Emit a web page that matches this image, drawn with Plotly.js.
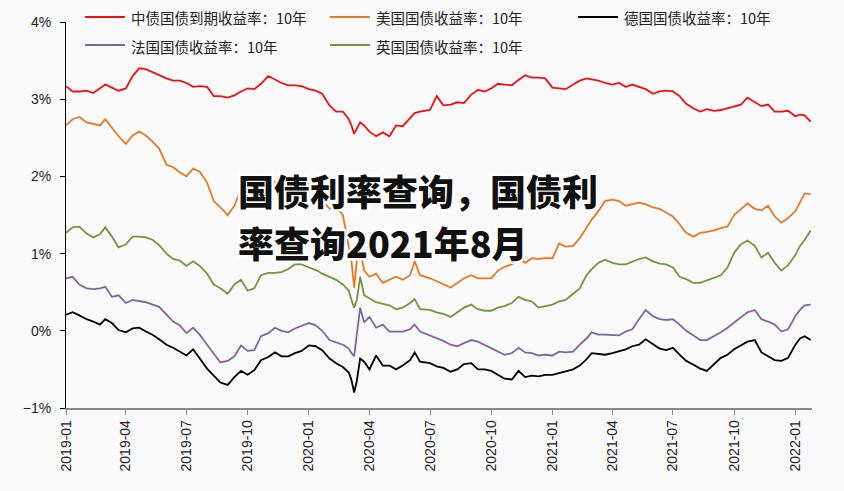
<!DOCTYPE html>
<html>
<head>
<meta charset="utf-8">
<script src="https://cdn.plot.ly/plotly-3.0.1.min.js"></script>
<style>
html,body{margin:0;padding:0;background:#f9f9f9;}
#chart{width:844px;height:491px;}
.annotation[data-index="0"] .annotation-text,
.annotation[data-index="1"] .annotation-text{paint-order:stroke;stroke:#ffffff;stroke-width:5px;stroke-linejoin:round;}
</style>
</head>
<body>
<div id="chart"></div>
<script>
const dates = [
"2019-01-01","2019-01-11","2019-01-21","2019-02-01","2019-02-11","2019-02-21","2019-03-01","2019-03-11","2019-03-21",
"2019-04-01","2019-04-11","2019-04-21","2019-05-01","2019-05-11","2019-05-21","2019-06-01","2019-06-11","2019-06-21",
"2019-07-01","2019-07-11","2019-07-21","2019-08-01","2019-08-11","2019-08-21","2019-09-01","2019-09-11","2019-09-21",
"2019-10-01","2019-10-11","2019-10-21","2019-11-01","2019-11-11","2019-11-21","2019-12-01","2019-12-11","2019-12-21",
"2020-01-01","2020-01-11","2020-01-21","2020-02-01","2020-02-11","2020-02-21","2020-03-01","2020-03-05","2020-03-09",
"2020-03-13","2020-03-18","2020-03-24","2020-04-01","2020-04-11","2020-04-21","2020-05-01","2020-05-11","2020-05-21",
"2020-06-01","2020-06-08","2020-06-16","2020-07-01","2020-07-11","2020-07-21","2020-08-01","2020-08-11","2020-08-21",
"2020-09-01","2020-09-11","2020-09-21","2020-10-01","2020-10-11","2020-10-21","2020-11-01","2020-11-11","2020-11-21",
"2020-12-01","2020-12-11","2020-12-21","2021-01-01","2021-01-11","2021-01-21","2021-02-01","2021-02-11","2021-02-21",
"2021-03-01","2021-03-11","2021-03-21","2021-04-01","2021-04-11","2021-04-21","2021-05-01","2021-05-11","2021-05-21",
"2021-06-01","2021-06-11","2021-06-21","2021-07-01","2021-07-11","2021-07-21","2021-08-01","2021-08-11","2021-08-21",
"2021-09-01","2021-09-11","2021-09-21","2021-10-01","2021-10-11","2021-10-21","2021-11-01","2021-11-11","2021-11-21",
"2021-12-01","2021-12-11","2021-12-21","2022-01-01","2022-01-08","2022-01-15","2022-01-24"
];

const chinaYield = [
3.17,3.10,3.10,3.11,3.08,3.14,3.19,3.15,3.11,
3.14,3.30,3.40,3.39,3.35,3.31,3.27,3.24,3.24,
3.21,3.16,3.17,3.16,3.04,3.04,3.02,3.05,3.10,
3.14,3.13,3.20,3.30,3.25,3.21,3.18,3.18,3.17,
3.13,3.11,3.07,2.92,2.84,2.84,2.74,2.66,2.55,
2.62,2.70,2.66,2.58,2.52,2.57,2.52,2.66,2.65,
2.75,2.82,2.84,2.86,3.04,2.92,2.93,2.96,2.95,
3.06,3.12,3.10,3.14,3.20,3.19,3.18,3.25,3.31,
3.28,3.28,3.27,3.15,3.14,3.13,3.19,3.24,3.27,
3.26,3.24,3.21,3.19,3.21,3.16,3.19,3.16,3.13,
3.07,3.10,3.11,3.10,3.04,2.94,2.88,2.84,2.87,
2.85,2.86,2.88,2.90,2.93,3.02,2.96,2.91,2.93,
2.84,2.84,2.85,2.78,2.80,2.79,2.71
];

const usYield = [
2.66,2.74,2.77,2.70,2.68,2.66,2.74,2.63,2.52,
2.42,2.53,2.58,2.53,2.45,2.36,2.15,2.12,2.05,
2.00,2.10,2.06,1.92,1.68,1.60,1.50,1.62,1.84,
1.72,1.60,1.78,1.82,1.93,1.80,1.84,1.85,1.92,
1.90,1.84,1.70,1.58,1.60,1.50,1.10,0.90,0.56,
0.90,1.05,0.78,0.70,0.74,0.62,0.66,0.70,0.66,
0.72,0.90,0.72,0.68,0.64,0.61,0.56,0.62,0.68,
0.72,0.68,0.68,0.68,0.78,0.83,0.86,0.94,0.88,
0.94,0.93,0.94,0.94,1.13,1.09,1.10,1.20,1.34,
1.44,1.55,1.68,1.70,1.68,1.62,1.64,1.66,1.64,
1.60,1.58,1.53,1.48,1.38,1.27,1.22,1.27,1.28,
1.30,1.33,1.35,1.50,1.58,1.65,1.58,1.56,1.62,
1.48,1.40,1.46,1.55,1.66,1.78,1.77
];

const germanyYield = [
0.21,0.24,0.20,0.15,0.12,0.08,0.15,0.10,0.01,
-0.02,0.03,0.04,-0.01,-0.05,-0.11,-0.18,-0.22,-0.27,
-0.32,-0.24,-0.36,-0.49,-0.58,-0.67,-0.70,-0.60,-0.52,
-0.57,-0.51,-0.38,-0.34,-0.28,-0.33,-0.33,-0.29,-0.26,
-0.19,-0.20,-0.25,-0.36,-0.42,-0.47,-0.54,-0.64,-0.80,
-0.65,-0.36,-0.40,-0.50,-0.32,-0.45,-0.45,-0.50,-0.45,
-0.38,-0.28,-0.40,-0.42,-0.46,-0.48,-0.53,-0.50,-0.43,
-0.42,-0.50,-0.50,-0.52,-0.57,-0.62,-0.63,-0.52,-0.60,
-0.58,-0.59,-0.57,-0.57,-0.55,-0.53,-0.50,-0.45,-0.37,
-0.29,-0.30,-0.31,-0.29,-0.27,-0.24,-0.20,-0.18,-0.11,
-0.17,-0.23,-0.25,-0.22,-0.31,-0.39,-0.44,-0.49,-0.52,
-0.43,-0.35,-0.31,-0.24,-0.19,-0.14,-0.12,-0.28,-0.33,
-0.38,-0.39,-0.35,-0.18,-0.10,-0.07,-0.12
];

const franceYield = [
0.68,0.70,0.60,0.55,0.54,0.55,0.57,0.44,0.46,
0.36,0.40,0.38,0.37,0.34,0.31,0.21,0.12,0.07,
-0.03,0.04,-0.05,-0.18,-0.29,-0.41,-0.39,-0.33,-0.19,
-0.26,-0.25,-0.07,-0.03,0.04,0.00,-0.02,0.03,0.06,
0.10,0.07,0.00,-0.12,-0.15,-0.18,-0.23,-0.29,-0.33,
-0.05,0.30,0.11,0.18,0.04,0.08,-0.01,-0.01,-0.01,
0.02,0.08,-0.01,-0.06,-0.09,-0.13,-0.18,-0.20,-0.16,
-0.12,-0.14,-0.18,-0.22,-0.27,-0.31,-0.29,-0.22,-0.28,
-0.29,-0.32,-0.31,-0.32,-0.27,-0.28,-0.27,-0.18,-0.10,
-0.02,-0.05,-0.05,-0.06,-0.06,-0.01,0.02,0.15,0.27,
0.19,0.15,0.14,0.15,0.08,0.00,-0.06,-0.12,-0.12,
-0.07,-0.02,0.04,0.11,0.17,0.24,0.27,0.15,0.12,
0.08,-0.01,0.02,0.19,0.27,0.33,0.34
];

const ukYield = [
1.27,1.34,1.35,1.26,1.21,1.25,1.34,1.22,1.08,
1.12,1.22,1.22,1.21,1.18,1.11,1.00,0.93,0.91,
0.84,0.90,0.84,0.74,0.60,0.55,0.48,0.60,0.66,
0.52,0.55,0.72,0.75,0.75,0.76,0.80,0.86,0.86,
0.82,0.79,0.74,0.70,0.66,0.60,0.52,0.40,0.30,
0.40,0.70,0.46,0.42,0.37,0.35,0.33,0.28,0.30,
0.36,0.41,0.28,0.27,0.24,0.22,0.18,0.24,0.30,
0.34,0.28,0.26,0.26,0.30,0.32,0.36,0.44,0.40,
0.38,0.30,0.32,0.34,0.38,0.40,0.48,0.55,0.72,
0.80,0.88,0.92,0.88,0.86,0.86,0.90,0.93,0.95,
0.90,0.87,0.86,0.82,0.70,0.67,0.62,0.62,0.65,
0.68,0.72,0.82,1.01,1.12,1.17,1.10,0.95,1.01,
0.88,0.78,0.85,0.98,1.10,1.18,1.30
];

const seriesNames = [
"中债国债到期收益率：10年",
"美国国债收益率：10年",
"德国国债收益率：10年",
"法国国债收益率：10年",
"英国国债收益率：10年"
];
const overlayLines = ["国债利率查询，国债利", "率查询2021年8月"];

const colors = ["#ee1111", "#e47a26", "#000000", "#8064a2", "#77933c"];
const values = [chinaYield, usYield, germanyYield, franceYield, ukYield];

const W = 844, H = 491;
const M = {l: 66, r: 32, t: 22, b: 83};
const plotW = W - M.l - M.r, plotH = H - M.t - M.b;
const px = p => (p - M.l) / plotW;        // pixel x -> paper x
const py = p => (H - M.b - p) / plotH;    // pixel y -> paper y

// legend slots (pixel positions of each entry's key line start and row centre)
const legendSlots = [[85, 17], [330, 17], [578, 17], [85, 45], [330, 45]];

const traces = values.map((v, i) => ({
  type: "scatter",
  mode: "lines",
  x: dates,
  y: v,
  name: seriesNames[i],
  line: {color: colors[i], width: 1.8},
  hoverinfo: "skip",
  showlegend: false
}));

const shapes = [];
const annotations = [
  {xref: "paper", yref: "paper", x: px(236), y: py(190), xanchor: "left", yanchor: "middle",
   text: overlayLines[0], showarrow: false,
   font: {family: "Noto Sans CJK SC, sans-serif", size: 36, weight: 900, color: "#111"}},
  {xref: "paper", yref: "paper", x: px(236), y: py(242), xanchor: "left", yanchor: "middle",
   text: overlayLines[1], showarrow: false,
   font: {family: "Noto Sans CJK SC, sans-serif", size: 36, weight: 900, color: "#111"}}
];
legendSlots.forEach(([lx, ly], i) => {
  shapes.push({type: "line", xref: "paper", yref: "paper",
    x0: px(lx), x1: px(lx + 40), y0: py(ly), y1: py(ly),
    line: {color: colors[i], width: 2.2}});
  annotations.push({xref: "paper", yref: "paper", x: px(lx + 44), y: py(ly + 1),
    xanchor: "left", yanchor: "middle", showarrow: false, text: seriesNames[i],
    font: {family: "Noto Sans CJK SC, sans-serif", size: 14.5, color: "#222"}});
});

const layout = {
  width: W,
  height: H,
  margin: M,
  paper_bgcolor: "#f9f9f9",
  plot_bgcolor: "#f9f9f9",
  showlegend: false,
  xaxis: {
    type: "date",
    range: ["2019-01-01", "2022-01-26"],
    tick0: "2019-01-01",
    dtick: "M3",
    tickformat: "%Y-%m",
    tickangle: -90,
    ticks: "outside",
    ticklen: 5,
    tickcolor: "#888",
    showline: true,
    linecolor: "#888",
    linewidth: 1.5,
    showgrid: false,
    zeroline: false,
    automargin: false,
    tickfont: {family: "Liberation Sans, Arial, sans-serif", size: 14, color: "#222"}
  },
  yaxis: {
    range: [-1, 4],
    dtick: 1,
    ticksuffix: "%",
    ticks: "outside",
    ticklen: 5,
    tickcolor: "#000",
    showline: true,
    linecolor: "#000",
    linewidth: 1,
    showgrid: false,
    zeroline: false,
    automargin: false,
    ticklabelstandoff: 6,
    tickfont: {family: "Liberation Sans, Arial, sans-serif", size: 14, color: "#222"}
  },
  shapes: shapes,
  annotations: annotations
};

Plotly.newPlot("chart", traces, layout, {displayModeBar: false, staticPlot: true});
</script>
</body>
</html>
